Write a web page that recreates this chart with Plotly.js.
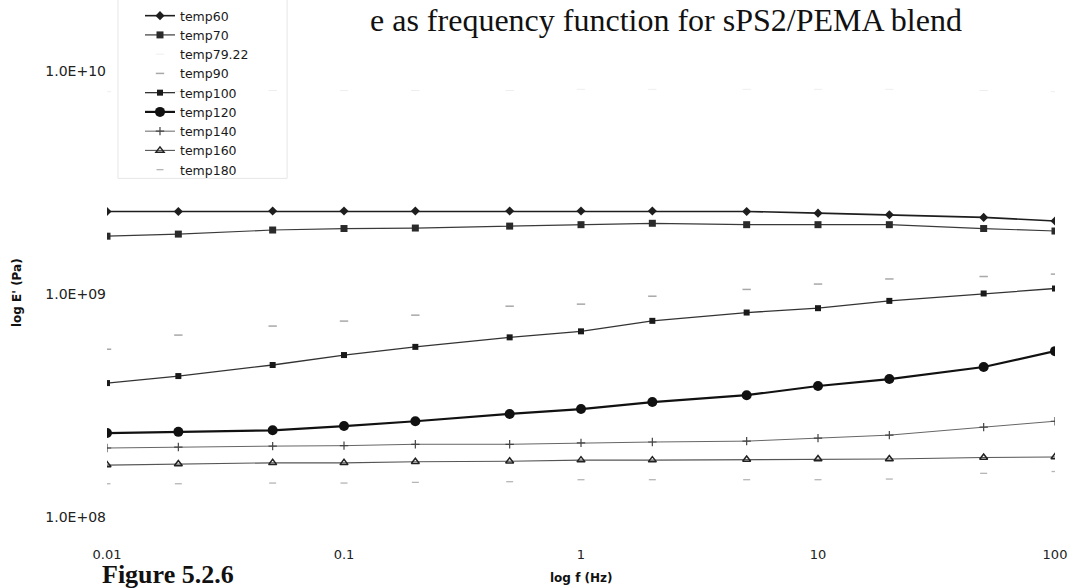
<!DOCTYPE html>
<html>
<head>
<meta charset="utf-8">
<script src="https://cdn.plot.ly/plotly-3.0.1.min.js"></script>
<style>html,body{margin:0;padding:0;background:#fff;}#chart{width:1075px;height:588px;}</style>
</head>
<body>
<div id="chart"></div>
<script>
// frequency (Hz)
const freq = [0.01, 0.02, 0.05, 0.1, 0.2, 0.5, 1, 2, 5, 10, 20, 50, 100];
// storage modulus E' (Pa) per temperature
const temp60  = [2.35e9, 2.35e9, 2.36e9, 2.36e9, 2.36e9, 2.36e9, 2.36e9, 2.36e9, 2.35e9, 2.31e9, 2.27e9, 2.21e9, 2.13e9];
const temp70  = [1.82e9, 1.86e9, 1.94e9, 1.97e9, 1.98e9, 2.02e9, 2.05e9, 2.08e9, 2.05e9, 2.05e9, 2.05e9, 1.97e9, 1.92e9];
const temp7922 = [8.1e9, 8.1e9, 8.2e9, 8.2e9, 8.2e9, 8.2e9, 8.3e9, 8.3e9, 8.3e9, 8.3e9, 8.3e9, 8.2e9, 8.1e9];
const temp90  = [5.66e8, 6.55e8, 7.19e8, 7.57e8, 8.05e8, 8.83e8, 9.02e8, 9.79e8, 1.05e9, 1.11e9, 1.17e9, 1.20e9, 1.23e9];
const temp100 = [3.99e8, 4.29e8, 4.81e8, 5.33e8, 5.80e8, 6.40e8, 6.81e8, 7.59e8, 8.27e8, 8.65e8, 9.33e8, 1.007e9, 1.06e9];
const temp120 = [2.38e8, 2.41e8, 2.45e8, 2.56e8, 2.69e8, 2.90e8, 3.05e8, 3.28e8, 3.52e8, 3.87e8, 4.16e8, 4.71e8, 5.55e8];
const temp140 = [2.04e8, 2.06e8, 2.08e8, 2.09e8, 2.12e8, 2.12e8, 2.15e8, 2.17e8, 2.19e8, 2.26e8, 2.33e8, 2.53e8, 2.69e8];
const temp160 = [1.71e8, 1.73e8, 1.75e8, 1.75e8, 1.77e8, 1.78e8, 1.80e8, 1.80e8, 1.81e8, 1.82e8, 1.82e8, 1.85e8, 1.86e8];
const temp180 = [1.41e8, 1.41e8, 1.42e8, 1.42e8, 1.43e8, 1.44e8, 1.47e8, 1.47e8, 1.47e8, 1.47e8, 1.48e8, 1.57e8, 1.60e8];

const seriesNames = ['temp60', 'temp70', 'temp79.22', 'temp90', 'temp100', 'temp120', 'temp140', 'temp160', 'temp180'];
const xTickVals = [0.01, 0.1, 1, 10, 100];
const xTickText = ['0.01', '0.1', '1', '10', '100'];
const yTickVals = [1e8, 1e9, 1e10];
const yTickText = ['1.0E+08', '1.0E+09', '1.0E+10'];

const titleText = 'e as frequency function for sPS2/PEMA blend';
const captionText = 'Figure 5.2.6';
const xTitle = 'log f (Hz)';
const yTitle = "log E' (Pa)";

const data = [
  {x: freq, y: temp60, name: seriesNames[0], mode: 'lines+markers',
   line: {color: '#1e1e1e', width: 1.6}, marker: {symbol: 'diamond', size: 7, color: '#1e1e1e'}},
  {x: freq, y: temp70, name: seriesNames[1], mode: 'lines+markers',
   line: {color: '#3a3a3a', width: 1.2}, marker: {symbol: 'square', size: 7, color: '#2a2a2a'}},
  {x: freq, y: temp7922, name: seriesNames[2], mode: 'markers',
   marker: {symbol: 'line-ew', size: 6, color: '#eeeeee', line: {color: '#eeeeee', width: 1}}},
  {x: freq, y: temp90, name: seriesNames[3], mode: 'markers',
   marker: {symbol: 'line-ew', size: 6, color: '#a8a8a8', line: {color: '#a8a8a8', width: 1.5}}},
  {x: freq, y: temp100, name: seriesNames[4], mode: 'lines+markers',
   line: {color: '#333333', width: 1.3}, marker: {symbol: 'square', size: 6, color: '#1a1a1a'}},
  {x: freq, y: temp120, name: seriesNames[5], mode: 'lines+markers',
   line: {color: '#111111', width: 2.2}, marker: {symbol: 'circle', size: 10, color: '#111111'}},
  {x: freq, y: temp140, name: seriesNames[6], mode: 'lines+markers',
   line: {color: '#666666', width: 1}, marker: {symbol: 'cross-thin', size: 6, color: '#444', line: {color: '#444444', width: 1.2}}},
  {x: freq, y: temp160, name: seriesNames[7], mode: 'lines+markers',
   line: {color: '#555555', width: 1.1}, marker: {symbol: 'triangle-up-open', size: 7, color: '#222', line: {color: '#222222', width: 1.5}}},
  {x: freq, y: temp180, name: seriesNames[8], mode: 'markers',
   marker: {symbol: 'line-ew', size: 5, color: '#b5b5b5', line: {color: '#b5b5b5', width: 1.3}}}
];

const F = 'DejaVu Sans, Arial, sans-serif';
const layout = {
  width: 1075, height: 588,
  margin: {l: 107, r: 20, t: 0, b: 71, pad: 0},
  paper_bgcolor: '#ffffff', plot_bgcolor: '#ffffff',
  font: {family: F, size: 14, color: '#222222'},
  showlegend: true,
  legend: {x: 0.0348, xanchor: 'left', y: 0.998, yanchor: 'top',
           bgcolor: 'rgba(0,0,0,0)', borderwidth: 0,
           font: {family: F, size: 12.5, color: '#1a1a1a'}},
  xaxis: {type: 'log', range: [-2, 2], showgrid: false, zeroline: false, showline: false,
          ticks: '', tickvals: xTickVals, ticktext: xTickText,
          tickfont: {family: F, size: 13, color: '#222'}, ticklabelstandoff: 28},
  yaxis: {type: 'log', range: [8, 10.32], showgrid: false, zeroline: false, showline: false,
          ticks: '', tickvals: yTickVals, ticktext: yTickText,
          tickfont: {family: F, size: 14, color: '#222'}},
  shapes: [
    {type: 'rect', xref: 'paper', yref: 'paper', x0: 0.0116, x1: 0.19, y0: 0.655, y1: 1.02,
     line: {color: '#e6e6e6', width: 1}}
  ],
  annotations: [
    {text: titleText, xref: 'paper', yref: 'paper', x: 0.2753, y: 0.962, xanchor: 'left', yanchor: 'middle',
     showarrow: false, font: {family: 'Liberation Serif, Times New Roman, serif', size: 32, color: '#111'}},
    {text: '<b>' + xTitle + '</b>', xref: 'paper', yref: 'paper', x: 0.501, y: -0.118, xanchor: 'center', yanchor: 'middle',
     showarrow: false, font: {family: F, size: 12, color: '#111'}},
    {text: '<b>' + yTitle + '</b>', xref: 'paper', yref: 'paper', x: -0.095, y: 0.435, xanchor: 'center', yanchor: 'middle',
     textangle: -90, showarrow: false, font: {family: F, size: 12, color: '#111'}},
    {text: '<b>' + captionText + '</b>', xref: 'paper', yref: 'paper', x: -0.0074, y: -0.112, xanchor: 'left', yanchor: 'middle',
     showarrow: false, font: {family: 'Liberation Serif, Times New Roman, serif', size: 26, color: '#111'}}
  ]
};

Plotly.newPlot('chart', data, layout, {displayModeBar: false, staticPlot: true});
</script>
</body>
</html>
